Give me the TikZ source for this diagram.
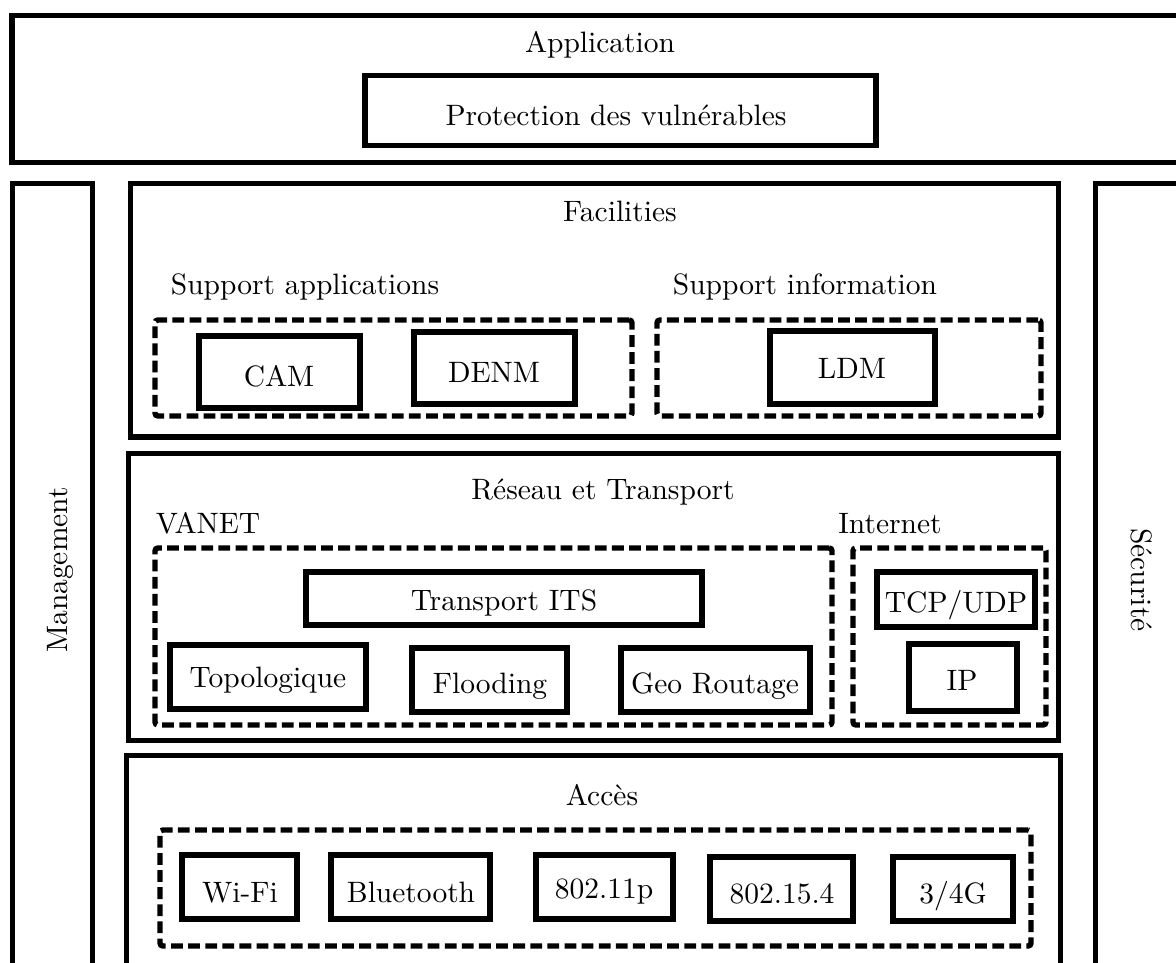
\documentclass[tikz,border=0pt]{standalone}
\tikzset{
  solidbox/.style={draw, line width=1.85pt, inner sep=0pt, outer sep=0pt},
  dashbox/.style={draw, line width=1.85pt, dash pattern=on 4pt off 1.8pt, rounded corners=1pt, inner sep=0pt, outer sep=0pt},
  lbl/.style={inner sep=0pt, outer sep=0pt, anchor=base}
}
\newcommand\bx[6]{\node[#1, minimum width={(#5-#3)*0.339pt}, minimum height={(#6-#4)*0.339pt}] (#2) at ({(#3+#5)/2},{(#4+#6)/2}) {};}
\begin{document}
\begin{tikzpicture}[x=0.339pt,y=-0.339pt]
\useasboundingbox (0,0) rectangle (1176,963);
\clip (0,0) rectangle (1176,963);
% outer layers
\bx{solidbox}{app}{12}{15.5}{1200}{162.5}
\bx{solidbox}{prot}{365}{75.5}{876}{145.5}
\bx{solidbox}{mgmt}{12.5}{183.5}{92.5}{1000}
\bx{solidbox}{secu}{1095.5}{183.5}{1200}{1000}
\bx{solidbox}{fac}{130.5}{183.5}{1058.5}{437}
\bx{solidbox}{res}{128.5}{453.5}{1058.5}{740.5}
\bx{solidbox}{acc}{126.5}{755.5}{1060.5}{1000}
% facilities content
\bx{dashbox}{sa}{155}{320}{632}{416}
\bx{dashbox}{si}{657}{320}{1041}{416}
\bx{solidbox}{cam}{199}{336}{360}{408}
\bx{solidbox}{denm}{414}{332}{575}{404}
\bx{solidbox}{ldm}{770}{331}{935}{404}
% reseau content
\bx{dashbox}{vanet}{155}{548}{832}{725}
\bx{dashbox}{inet}{853}{548}{1046}{725}
\bx{solidbox}{its}{306}{572}{702}{625}
\bx{solidbox}{topo}{170}{645}{366}{709}
\bx{solidbox}{flood}{412}{648}{567}{712}
\bx{solidbox}{geo}{621}{648}{810}{712}
\bx{solidbox}{tcp}{877}{572}{1035}{627}
\bx{solidbox}{ip}{909}{644}{1017}{711}
% acces content
\bx{dashbox}{accd}{160}{830}{1031}{946}
\bx{solidbox}{wifi}{182}{855}{297}{919}
\bx{solidbox}{bt}{331}{855}{490}{919}
\bx{solidbox}{p80211}{536}{855}{673}{919}
\bx{solidbox}{p802154}{710}{857}{853}{921}
\bx{solidbox}{g34}{893}{857}{1013}{921}
% labels
\node[lbl] (tapp) at (600,53) {Application};
\node[lbl] (tprot) at (616,126) {Protection des vulnérables};
\node[lbl, rotate=90] (tmgmt) at (67,570) {Management};
\node[lbl, rotate=-90] (tsecu) at (1131,580) {Sécurité};
\node[lbl] (tfac) at (620,222) {Facilities};
\node[lbl] (tsa) at (305,295) {Support applications};
\node[lbl] (tsi) at (805,295) {Support information};
\node[lbl] (tcam) at (279,386) {CAM};
\node[lbl] (tdenm) at (494,382) {DENM};
\node[lbl] (tldm) at (852,378) {LDM};
\node[lbl] (tres) at (603,500) {Réseau et Transport};
\node[lbl] (tvanet) at (208,533) {VANET};
\node[lbl] (tinet) at (890,533) {Internet};
\node[lbl] (tits) at (504,610) {Transport ITS};
\node[lbl] (ttopo) at (268,687) {Topologique};
\node[lbl] (tflood) at (490,693) {Flooding};
\node[lbl] (tgeo) at (715,693) {Geo Routage};
\node[lbl] (ttcp) at (956,612) {TCP/UDP};
\node[lbl] (tip) at (962,690) {IP};
\node[lbl] (tacc) at (602,805) {Accès};
\node[lbl] (twifi) at (240,902) {Wi-Fi};
\node[lbl] (tbt) at (411,902) {Bluetooth};
\node[lbl] (t80211) at (604,898) {802.11p};
\node[lbl] (t802154) at (782,903) {802.15.4};
\node[lbl] (t34) at (953,903) {3/4G};
\end{tikzpicture}
\end{document}
